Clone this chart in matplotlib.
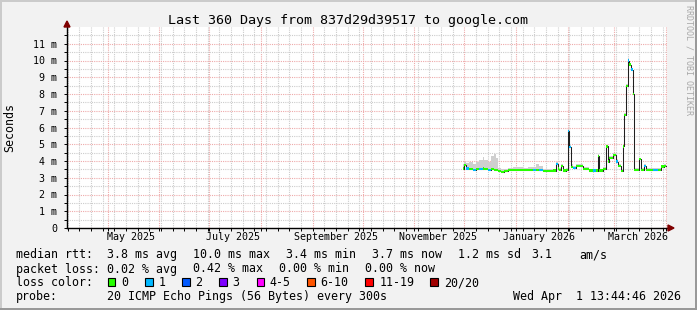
import matplotlib
matplotlib.use("Agg")
import matplotlib.pyplot as plt
import matplotlib.dates as mdates
import matplotlib.transforms as mtrans
from matplotlib.patches import Rectangle, Polygon
from matplotlib.ticker import FixedLocator, FuncFormatter
import numpy as np
import pandas as pd

W, H = 697, 310
MONO = "DejaVu Sans Mono"

# ---- data (median rtt in ms, lost pings out of 20, top of smoke in ms) ----
dates = [
    "2025-11-30", "2025-12-01", "2025-12-02", "2025-12-04", "2025-12-06", "2025-12-08",
    "2025-12-10", "2025-12-12", "2025-12-13", "2025-12-15", "2025-12-17", "2025-12-19",
    "2025-12-20", "2025-12-21", "2025-12-23", "2025-12-25", "2025-12-27", "2025-12-30",
    "2026-01-02", "2026-01-05", "2026-01-08", "2026-01-11", "2026-01-13", "2026-01-15",
    "2026-01-17", "2026-01-20", "2026-01-23", "2026-01-25", "2026-01-26", "2026-01-27",
    "2026-01-28", "2026-01-29", "2026-01-31", "2026-02-01", "2026-02-02", "2026-02-03",
    "2026-02-04", "2026-02-06", "2026-02-10", "2026-02-14", "2026-02-16", "2026-02-18",
    "2026-02-19", "2026-02-20", "2026-02-22", "2026-02-24", "2026-02-25", "2026-02-26",
    "2026-02-28", "2026-03-02", "2026-03-03", "2026-03-05", "2026-03-06", "2026-03-07",
    "2026-03-08", "2026-03-09", "2026-03-10", "2026-03-11", "2026-03-12", "2026-03-13",
    "2026-03-16", "2026-03-17", "2026-03-19", "2026-03-20", "2026-03-24", "2026-03-27",
    "2026-03-29", "2026-03-31",
]
median = [
    3.55, 3.75, 3.55, 3.50, 3.48, 3.52,
    3.50, 3.55, 3.52, 3.48, 3.50, 3.47,
    3.45, 3.40, 3.36, 3.40, 3.47, 3.48,
    3.48, 3.47, 3.46, 3.47, 3.48, 3.46,
    3.42, 3.40, 3.43, 3.80, 3.55, 3.45,
    3.72, 3.43, 3.45, 5.80, 4.85, 3.65,
    3.57, 3.70, 3.50, 3.43, 3.43, 3.43,
    4.30, 3.43, 3.50, 4.87, 3.97, 4.17,
    4.37, 3.97, 3.70, 3.42, 4.87, 6.77,
    8.50, 10.0, 9.76, 9.46, 8.00, 3.47,
    4.10, 3.47, 3.70, 3.47, 3.45, 3.48,
    3.67, 3.70,
]
loss = [
    0, 0, 1, 0, 1, 0,
    1, 0, 0, 1, 0, 0,
    0, 0, 0, 0, 0, 0,
    0, 0, 0, 1, 0, 1,
    0, 0, 0, 1, 0, 0,
    0, 0, 0, 1, 1, 0,
    1, 0, 0, 0, 1, 0,
    0, 0, 0, 0, 0, 0,
    0, 1, 0, 0, 0, 0,
    0, 1, 0, 1, 0, 0,
    0, 0, 1, 0, 1, 0,
    0, 0,
]
smoke_hi = [
    3.85, 3.95, 3.90, 3.95, 3.85, 3.95,
    4.05, 4.25, 4.05, 3.95, 4.30, 4.40,
    4.15, 3.60, 3.50, 3.55, 3.60, 3.62,
    3.62, 3.60, 3.62, 3.65, 3.85, 3.70,
    3.55, 3.52, 3.55, 3.95, 3.70, 3.60,
    3.85, 3.55, 3.58, 5.90, 5.00, 3.80,
    3.70, 3.82, 3.62, 3.55, 3.55, 3.55,
    4.40, 3.55, 3.62, 4.95, 4.10, 4.30,
    4.50, 4.10, 3.82, 3.55, 4.95, 6.85,
    8.60, 10.15, 9.85, 9.55, 8.10, 3.60,
    4.20, 3.58, 3.80, 3.58, 3.56, 3.60,
    3.78, 3.80,
]
data_end = "2026-04-01"

loss_labels = ["0", "1", "2", "3", "4-5", "6-10", "11-19", "20/20"]
loss_colors = ["#26ff00", "#00b8ff", "#0059ff", "#7e00ff", "#ff00ff",
               "#ff5500", "#ff0000", "#a10000"]

y_ticks = list(range(0, 12))
month_labels = ["May 2025", "July 2025", "September 2025", "November 2025",
                "January 2026", "March 2026"]
month_label_dates = ["2025-05-15", "2025-07-15", "2025-09-15", "2025-11-15",
                     "2026-01-15", "2026-03-15"]

end = pd.Timestamp("2026-04-01 13:44:46")
start = end - pd.Timedelta(days=360)

# ---- figure ----
fig = plt.figure(figsize=(W / 100, H / 100), dpi=100, facecolor="#f2f2f2")


def fx(px):
    return px / W


def fy(py):
    return 1 - py / H


ax = fig.add_axes([fx(67), fy(228), 600 / W, 201 / H])
ax.set_facecolor("white")

xs = mdates.date2num(pd.to_datetime(dates))
x_end = mdates.date2num(pd.Timestamp(data_end))
xs_ext = np.append(xs, x_end)
med = np.array(median)
med_ext = np.append(med, med[-1])
hi_ext = np.append(np.array(smoke_hi), smoke_hi[-1])

# smoke
ax.fill_between(xs_ext, med_ext, hi_ext, step="post", color="#cfcfcf", lw=0, zorder=2)
# median line
ax.step(xs_ext, med_ext, where="post", color="#202020", lw=0.75, zorder=3)
# loss coloured blobs
widths = np.diff(xs_ext)
ax.bar(xs, 0.13, width=widths, bottom=med - 0.065, align="edge",
       color=[loss_colors[l] for l in loss], lw=0, zorder=4)

ax.set_xlim(mdates.date2num(start), mdates.date2num(end))
ax.set_ylim(0, 12)

# grid
ax.xaxis.set_major_locator(mdates.MonthLocator())
ax.xaxis.set_minor_locator(mdates.WeekdayLocator(byweekday=mdates.MO))
ax.yaxis.set_major_locator(FixedLocator(y_ticks))
ax.yaxis.set_minor_locator(FixedLocator(np.arange(0.5, 12, 1)))
ax.yaxis.set_major_formatter(FuncFormatter(lambda v, p: "0" if v == 0 else f"{int(v)} m"))
ax.grid(which="minor", color="#cccccc", ls=(0, (1, 1)), lw=0.8, zorder=0)
ax.grid(which="major", color="#eeaaaa", ls=(0, (1, 1)), lw=0.8, zorder=1)
ax.set_axisbelow(True)

ax.tick_params(axis="x", which="both", labelbottom=False, length=2, width=0.7, color="black")
ax.tick_params(axis="y", which="both", length=2, width=0.7, color="black",
               labelsize=7.2, pad=5)
for lab in ax.get_yticklabels():
    lab.set_family(MONO)

for s in ["top", "right"]:
    ax.spines[s].set_visible(False)
for s in ["left", "bottom"]:
    ax.spines[s].set_color("black")
    ax.spines[s].set_linewidth(1)

# month labels
trans = mtrans.blended_transform_factory(ax.transData, fig.transFigure)
for lab, d in zip(month_labels, month_label_dates):
    ax.text(mdates.date2num(pd.Timestamp(d)), fy(232), lab, transform=trans,
            ha="center", va="top", fontsize=7.2, family=MONO)

# arrows
fig.add_artist(Polygon([(fx(67), fy(21)), (fx(64), fy(27)), (fx(70), fy(27))],
                       closed=True, transform=fig.transFigure, color="#7f0000"))
fig.add_artist(Polygon([(fx(674), fy(228)), (fx(668), fy(225)), (fx(668), fy(231))],
                       closed=True, transform=fig.transFigure, color="#7f0000"))

# titles
fig.text(fx(348), fy(24), "Last 360 Days from 837d29d39517 to google.com",
         ha="center", va="baseline", fontsize=9.6, family=MONO)
fig.text(fx(10), fy(128), "Seconds", rotation=90, ha="center", va="center",
         fontsize=8.4, family=MONO)
fig.text(fx(689), fy(5), "RRDTOOL / TOBI OETIKER", rotation=270, ha="center",
         va="top", fontsize=6, family=MONO, color="#a8a8a8")

# legend
leg_fs = 8.4
rows = [
    (258, [(16, "median rtt:"), (107, "3.8 ms avg"), (193, "10.0 ms max"),
           (286, "3.4 ms min"), (372, "3.7 ms now"), (458, "1.2 ms sd"),
           (531, "3.1"), (579, "am/s")]),
    (272.5, [(16, "packet loss:"), (107, "0.02 % avg"), (193, "0.42 % max"),
             (279, "0.00 % min"), (365, "0.00 % now")]),
    (286.5, [(16, "loss color:")]),
    (300, [(16, "probe:"), (107, "20 ICMP Echo Pings (56 Bytes) every 300s")]),
]
for yb, items in rows:
    for xp, txt in items:
        fig.text(fx(xp), fy(yb), txt, ha="left", va="baseline", fontsize=leg_fs, family=MONO)
fig.text(fx(681), fy(300), "Wed Apr  1 13:44:46 2026", ha="right", va="baseline",
         fontsize=leg_fs, family=MONO)

box_x = [107.5, 145, 182, 219, 256.5, 307, 365, 430]
text_x = [121.5, 158.5, 195.5, 232.5, 269.5, 320.5, 379.5, 444]
for bx, tx, lab, col in zip(box_x, text_x, loss_labels, loss_colors):
    fig.add_artist(Rectangle((fx(bx), fy(285.5)), 7.5 / W, 8 / H, transform=fig.transFigure,
                             fc=col, ec="black", lw=0.8))
    fig.text(fx(tx), fy(286.5), lab, ha="left", va="baseline", fontsize=leg_fs, family=MONO)

# 3D frame
fig.add_artist(Rectangle((0, fy(2)), 1, 2 / H, transform=fig.transFigure, fc="#cbcbcb", lw=0))
fig.add_artist(Rectangle((0, 0), 2 / W, 1, transform=fig.transFigure, fc="#cbcbcb", lw=0))
fig.add_artist(Rectangle((0, 0), 1, 2 / H, transform=fig.transFigure, fc="#999999", lw=0))
fig.add_artist(Rectangle((fx(695), 0), 2 / W, 1, transform=fig.transFigure, fc="#999999", lw=0))

fig.savefig("out.png", dpi=100, facecolor=fig.get_facecolor())
